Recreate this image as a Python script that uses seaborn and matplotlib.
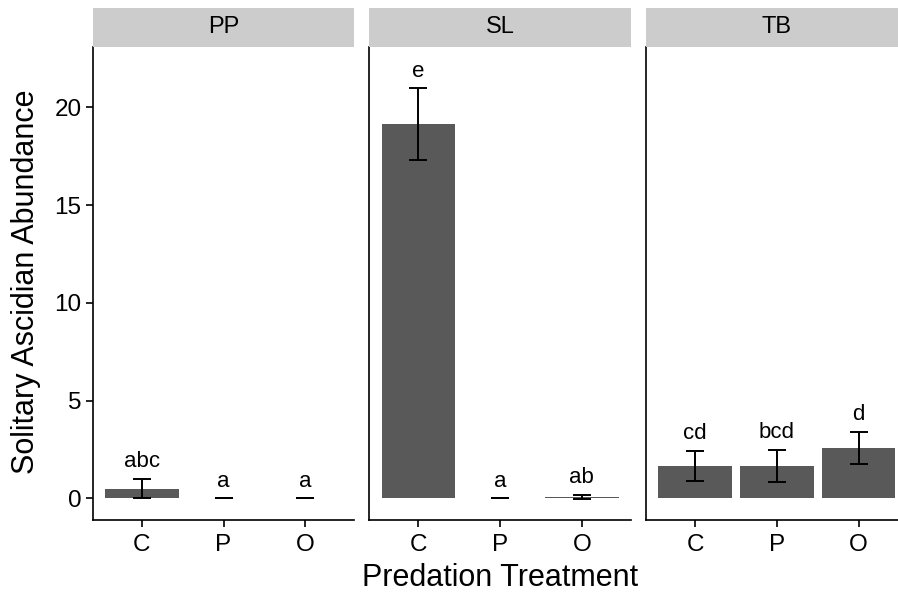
import matplotlib
matplotlib.use("Agg")
import matplotlib.pyplot as plt
import seaborn as sns
import pandas as pd

sites = ["PP", "SL", "TB"]
treatments = ["C", "P", "O"]
mean_pp = [0.5, 0.0, 0.0]
se_pp = [0.5, 0.0, 0.0]
mean_sl = [19.15, 0.0, 0.08]
se_sl = [1.82, 0.0, 0.12]
mean_tb = [1.67, 1.67, 2.59]
se_tb = [0.77, 0.83, 0.83]
letters_pp = ["abc", "a", "a"]
letters_sl = ["e", "a", "ab"]
letters_tb = ["cd", "bcd", "d"]

means = {"PP": mean_pp, "SL": mean_sl, "TB": mean_tb}
ses = {"PP": se_pp, "SL": se_sl, "TB": se_tb}
letters = {"PP": letters_pp, "SL": letters_sl, "TB": letters_tb}

sns.set_theme(style="ticks")
plt.rcParams["font.family"] = ["Liberation Sans", "DejaVu Sans"]

W, H = 898, 599
fig = plt.figure(figsize=(W / 100, H / 100), dpi=100)

panel_left = [92.7, 369.3, 646.0]
panel_w = 261.6
panel_top, panel_bot = 46.7, 520.0
strip_top = 8.0

bar_color = "#595959"

for i, site in enumerate(sites):
    x0 = panel_left[i] / W
    ax = fig.add_axes([x0, (H - panel_bot) / H, panel_w / W, (panel_bot - panel_top) / H])
    df = pd.DataFrame({"Treatment": treatments, "Abundance": means[site]})
    sns.barplot(data=df, x="Treatment", y="Abundance", order=treatments,
                color=bar_color, saturation=1, width=0.9, errorbar=None,
                linewidth=0, ax=ax)
    ax.errorbar(range(3), means[site], yerr=ses[site], fmt="none",
                ecolor="black", elinewidth=1.4, capsize=6.5, capthick=1.4)
    for j, lab in enumerate(letters[site]):
        ax.text(j, means[site][j] + ses[site][j] + 0.6, lab, ha="center",
                va="baseline", fontsize=16, color="black")
    ax.set_xlim(-0.6, 2.6)
    ax.set_ylim(-1.1, 23.1)
    ax.set_yticks([0, 5, 10, 15, 20])
    for side in ["top", "right"]:
        ax.spines[side].set_visible(False)
    for side in ["left", "bottom"]:
        ax.spines[side].set_linewidth(1.2)
        ax.spines[side].set_color("black")
    ax.tick_params(axis="both", length=5, width=1.2, color="black",
                   labelsize=17.5, labelcolor="black", pad=3)
    ax.tick_params(axis="x", pad=5)
    ax.set_xlabel("")
    ax.set_ylabel("")
    if i > 0:
        ax.tick_params(axis="y", left=False, labelleft=False)
    ax.set_facecolor("white")

    sax = fig.add_axes([x0, (H - panel_top) / H, panel_w / W, (panel_top - strip_top) / H])
    sax.set_facecolor("#CCCCCC")
    for s in sax.spines.values():
        s.set_visible(False)
    sax.set_xticks([])
    sax.set_yticks([])
    sax.text(0.5, 0.5, site, ha="center", va="center", fontsize=17,
             transform=sax.transAxes, color="black")

fig.text(500 / W, (H - 578) / H, "Predation Treatment", ha="center", va="center",
         fontsize=22, color="black")
fig.text(26 / W, (H - 282) / H, "Solitary Ascidian Abundance", ha="center",
         va="center", rotation=90, fontsize=22, color="black")

fig.savefig("out.png", dpi=100)
